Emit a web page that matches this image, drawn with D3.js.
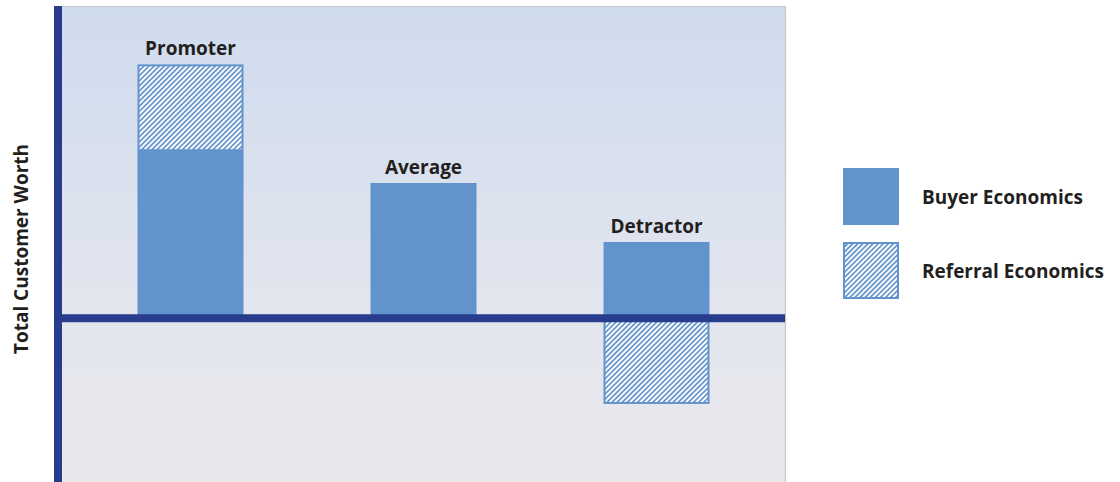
<!DOCTYPE html>
<html>
<head>
<meta charset="utf-8">
<script src="https://cdn.jsdelivr.net/npm/d3@7"></script>
<style>
  body { margin: 0; background: #fff; }
  svg { display: block; }
  text { font-family: "Open Sans", "Noto Sans", sans-serif; font-weight: 700; fill: #231f20; }
</style>
</head>
<body>
<svg></svg>
<script>
// chart data
var categories = ["Promoter", "Average", "Detractor"];
var buyerValues = [5.38, 4.33, 2.44];
var referralValues = [2.75, 0, -2.75];
var legendLabels = ["Buyer Economics", "Referral Economics"];
var yTitle = "Total Customer Worth";

var width = 1120;
var height = 482;
var plot = { left: 58, right: 785, top: 6, bottom: 482 };

var barBlue = "#6393cc";
var axisBlue = "#283c8e";

var svg = d3.select("svg").attr("width", width).attr("height", height);
var defs = svg.append("defs");

/* background gradient of the plot area */
var grad = defs.append("linearGradient")
  .attr("id", "bg")
  .attr("x1", 0).attr("y1", 0).attr("x2", 0).attr("y2", 1);
grad.append("stop").attr("offset", "0%").attr("stop-color", "#cfdbee");
grad.append("stop").attr("offset", "65%").attr("stop-color", "#e3e6ee");
grad.append("stop").attr("offset", "100%").attr("stop-color", "#e9e9ec");

/* diagonal hatch for referral economics */
var hatch = defs.append("pattern")
  .attr("id", "hatch")
  .attr("patternUnits", "userSpaceOnUse")
  .attr("width", 3.6)
  .attr("height", 3.6)
  .attr("patternTransform", "rotate(45)");
hatch.append("rect").attr("width", 3.6).attr("height", 3.6).attr("fill", "#fff");
hatch.append("rect").attr("width", 1.7).attr("height", 3.6).attr("fill", barBlue);

var xScale = d3.scaleBand()
  .domain(categories)
  .range([74, 773])
  .paddingInner(0.545)
  .paddingOuter(0.2725);

var yScale = d3.scaleLinear()
  .domain([-5.25, 10])
  .range([plot.bottom, plot.top]);

// plot background + thin border
svg.append("rect")
  .attr("x", plot.left)
  .attr("y", plot.top)
  .attr("width", plot.right - plot.left)
  .attr("height", plot.bottom - plot.top)
  .attr("fill", "url(#bg)");
svg.append("path")
  .attr("d", "M" + plot.left + "," + (plot.top + 0.5) + "H" + (plot.right + 0.5) + "V" + plot.bottom)
  .attr("fill", "none")
  .attr("stroke", "#c6c6c6")
  .attr("stroke-width", 1.2);

var rows = categories.map((c, i) => {
  return { cat: c, buyer: buyerValues[i], referral: referralValues[i] };
});

// buyer bars
svg.selectAll("rect.buyer")
  .data(rows)
  .enter()
  .append("rect")
  .attr("class", "buyer")
  .attr("x", (d) => xScale(d.cat))
  .attr("width", xScale.bandwidth())
  .attr("y", (d) => yScale(d.buyer))
  .attr("height", (d) => yScale(0) - yScale(d.buyer))
  .attr("fill", barBlue);

// referral bars (stacked on buyer when positive, below zero when negative)
svg.selectAll("rect.referral")
  .data(rows.filter((d) => d.referral != 0))
  .enter()
  .append("rect")
  .attr("class", "referral")
  .attr("x", (d) => xScale(d.cat) + 1)
  .attr("width", xScale.bandwidth() - 2)
  .attr("y", (d) => {
    return d.referral > 0 ? yScale(d.buyer + d.referral) + 1 : yScale(0);
  })
  .attr("height", (d) => {
    return d.referral > 0
      ? yScale(d.buyer) - yScale(d.buyer + d.referral) - 1
      : yScale(d.referral) - yScale(0) - 1;
  })
  .attr("fill", "url(#hatch)")
  .attr("stroke", barBlue)
  .attr("stroke-width", 2);

// category labels above the bars
svg.selectAll("text.cat")
  .data(rows)
  .enter()
  .append("text")
  .attr("class", "cat")
  .attr("x", (d) => xScale(d.cat) + xScale.bandwidth() / 2)
  .attr("y", (d) => yScale(d.buyer + Math.max(0, d.referral)) - 9)
  .attr("text-anchor", "middle")
  .attr("font-size", 19)
  .text((d) => d.cat);

// zero line and left axis
svg.append("line")
  .attr("x1", plot.left - 4).attr("x2", plot.right)
  .attr("y1", yScale(0)).attr("y2", yScale(0))
  .attr("stroke", axisBlue)
  .attr("stroke-width", 8);
svg.append("line")
  .attr("x1", plot.left).attr("x2", plot.left)
  .attr("y1", plot.top).attr("y2", plot.bottom)
  .attr("stroke", axisBlue)
  .attr("stroke-width", 8);

// y axis title
svg.append("text")
  .attr("transform", "translate(28," + 249 + ") rotate(-90)")
  .attr("text-anchor", "middle")
  .attr("font-size", 19)
  .text(yTitle);

// legend
var legend = svg.append("g").attr("transform", "translate(843,168)");
legendLabels.forEach((lab, i) => {
  var g = legend.append("g").attr("transform", "translate(0," + i * 74 + ")");
  if (i == 0) {
    g.append("rect").attr("width", 56).attr("height", 57).attr("fill", barBlue);
  } else {
    g.append("rect")
      .attr("x", 1).attr("y", 1)
      .attr("width", 54).attr("height", 55)
      .attr("fill", "url(#hatch)")
      .attr("stroke", barBlue)
      .attr("stroke-width", 2);
  }
  g.append("text")
    .attr("x", 79)
    .attr("y", 36)
    .attr("font-size", 19)
    .text(lab);
});
</script>
</body>
</html>
